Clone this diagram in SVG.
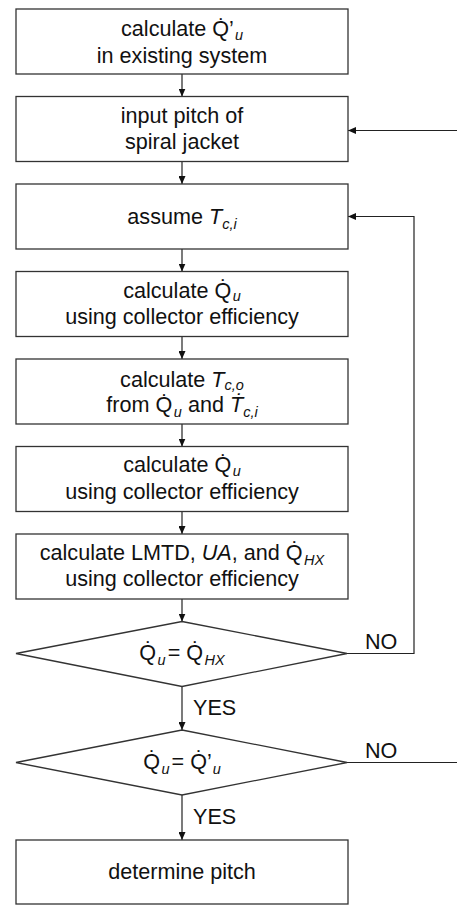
<svg xmlns="http://www.w3.org/2000/svg" width="457" height="905" viewBox="0 0 457 905">
<defs>
<style>
.box{fill:#fff;stroke:#333;stroke-width:1.3}
.ln{fill:none;stroke:#222;stroke-width:1.2}
text{font-family:"Liberation Sans",Arial,sans-serif;font-size:21.6px;fill:#111;text-anchor:middle}
.lbl{text-anchor:start}
.i{font-style:italic}
.s{font-style:italic;font-size:14.5px}
</style>
<marker id="ah" markerUnits="userSpaceOnUse" markerWidth="8" markerHeight="7" refX="8" refY="3.5" orient="auto">
<path d="M0,0 L8,3.5 L0,7 z" fill="#111"/>
</marker>
</defs>
<rect width="457" height="905" fill="#fff"/>
<g id="connectors">
<line class="ln" x1="182" y1="74" x2="182" y2="96.5" marker-end="url(#ah)"/>
<line class="ln" x1="182" y1="161.5" x2="182" y2="184" marker-end="url(#ah)"/>
<line class="ln" x1="182" y1="249" x2="182" y2="271.5" marker-end="url(#ah)"/>
<line class="ln" x1="182" y1="336.5" x2="182" y2="359" marker-end="url(#ah)"/>
<line class="ln" x1="182" y1="424" x2="182" y2="446.5" marker-end="url(#ah)"/>
<line class="ln" x1="182" y1="511.5" x2="182" y2="534" marker-end="url(#ah)"/>
<line class="ln" x1="182" y1="599" x2="182" y2="621.5" marker-end="url(#ah)"/>
<line class="ln" x1="182" y1="686.5" x2="182" y2="730" marker-end="url(#ah)"/>
<line class="ln" x1="182" y1="795" x2="182" y2="840" marker-end="url(#ah)"/>
<polyline class="ln" points="347,653.5 414,653.5 414,216.5 348,216.5" marker-end="url(#ah)"/>
<line class="ln" x1="457" y1="130.5" x2="348" y2="130.5" marker-end="url(#ah)"/>
<line class="ln" x1="347" y1="762.5" x2="457" y2="762.5"/>
<text class="lbl" x="365" y="649">NO</text>
<text class="lbl" x="365" y="758">NO</text>
<text class="lbl" x="193" y="715">YES</text>
<text class="lbl" x="193" y="824">YES</text>
</g>
<g id="n1">
<rect class="box" x="16" y="9" width="332" height="65"/>
<text x="182" y="36">calculate Q̇’<tspan class="s" dx="1" dy="3.5">u</tspan></text>
<text x="182" y="62.5">in existing system</text>
</g>
<g id="n2">
<rect class="box" x="16" y="96.5" width="332" height="65"/>
<text x="182" y="123">input pitch of</text>
<text x="182" y="149">spiral jacket</text>
</g>
<g id="n3">
<rect class="box" x="16" y="184" width="332" height="65"/>
<text x="182" y="224">assume <tspan class="i">T</tspan><tspan class="s" dy="5">c,i</tspan></text>
</g>
<g id="n4">
<rect class="box" x="16" y="271.5" width="332" height="65"/>
<text x="182" y="297.5">calculate Q̇<tspan class="s" dx="1.5" dy="3.5">u</tspan></text>
<text x="182" y="323.5">using collector efficiency</text>
</g>
<g id="n5">
<rect class="box" x="16" y="359" width="332" height="65"/>
<text x="182" y="386.5">calculate <tspan class="i">T</tspan><tspan class="s" dy="3">c,o</tspan></text>
<text x="182" y="412">from Q̇<tspan class="s" dx="1.5" dy="5">u</tspan><tspan dy="-5"> and </tspan><tspan class="i">Ṫ</tspan><tspan class="s" dy="5">c,i</tspan></text>
</g>
<g id="n6">
<rect class="box" x="16" y="446.5" width="332" height="65"/>
<text x="182" y="472">calculate Q̇<tspan class="s" dx="1.5" dy="3.5">u</tspan></text>
<text x="182" y="498.5">using collector efficiency</text>
</g>
<g id="n7">
<rect class="box" x="16" y="534" width="332" height="65"/>
<text x="182" y="559.5">calculate LMTD, <tspan class="i">UA</tspan>, and Q̇<tspan class="s" dx="1.5" dy="5">HX</tspan></text>
<text x="182" y="585.5">using collector efficiency</text>
</g>
<g id="n8">
<polygon class="box" points="182,621.5 347,653.5 182,686.5 16,653.5"/>
<text x="182" y="659.5">Q̇<tspan class="s" dx="1.5" dy="5">u</tspan><tspan dx="2" dy="-5">= Q̇</tspan><tspan class="s" dx="1.5" dy="5">HX</tspan></text>
</g>
<g id="n9">
<polygon class="box" points="182,730 347,762.5 182,795 16,762.5"/>
<text x="182" y="768.5">Q̇<tspan class="s" dx="1.5" dy="5">u</tspan><tspan dx="2" dy="-5">= Q̇’</tspan><tspan class="s" dx="1" dy="5">u</tspan></text>
</g>
<g id="n10">
<rect class="box" x="16" y="840" width="332" height="64"/>
<text x="182" y="879">determine pitch</text>
</g>
</svg>
